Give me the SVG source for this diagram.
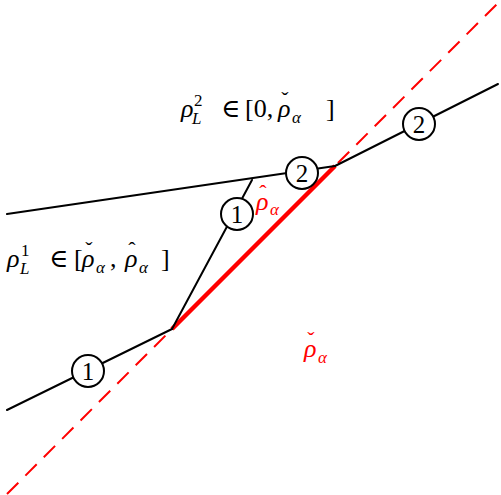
<svg xmlns="http://www.w3.org/2000/svg" width="501" height="495" viewBox="0 0 501 495">
<style>
.ln{stroke:#000;stroke-width:2;fill:none;stroke-linecap:round}
.nd circle{fill:#fff;stroke:#000;stroke-width:2}
.nd text{font-family:"Liberation Serif","DejaVu Serif",serif;font-size:25px;text-anchor:middle}
.t{font-family:"Liberation Serif","DejaVu Serif",serif;font-size:26px}
.i{font-style:italic}
.s{font-size:17px}
.a{text-anchor:middle;font-size:22px}
.red{fill:#f00}
</style>
<rect width="501" height="495" fill="#fff"/>
<g id="connectors">
<line x1="7" y1="494" x2="497" y2="4" stroke="#f00" stroke-width="2" stroke-dasharray="16 10"/>
<line x1="172" y1="329" x2="335" y2="166" stroke="#f00" stroke-width="4.5"/>
<line class="ln" x1="7" y1="410" x2="172" y2="329"/>
<line class="ln" x1="172" y1="329" x2="252" y2="180"/>
<line class="ln" x1="7" y1="214" x2="335" y2="166"/>
<line class="ln" x1="335" y1="166" x2="498" y2="84"/>
</g>
<g id="n1a" class="nd"><circle cx="88" cy="371" r="16"/><text x="88" y="380">1</text></g>
<g id="n1b" class="nd"><circle cx="237" cy="214" r="16"/><text x="237" y="223">1</text></g>
<g id="n2a" class="nd"><circle cx="302" cy="173" r="16"/><text x="302" y="182">2</text></g>
<g id="n2b" class="nd"><circle cx="419" cy="124" r="16"/><text x="419" y="133">2</text></g>
<g id="label-top">
<text class="t i" x="181" y="117">ρ</text>
<text class="t s" x="194" y="106">2</text>
<text class="t s i" x="192" y="124">L</text>
<text class="t" x="221" y="117">∈</text>
<text class="t" x="245" y="117">[0,</text>
<text class="t i" x="278" y="117">ρ</text>
<text class="t a" x="285" y="107">ˇ</text>
<text class="t s i" x="292" y="123">α</text>
<text class="t" x="326" y="117">]</text>
</g>
<g id="label-left">
<text class="t i" x="7" y="267">ρ</text>
<text class="t s" x="21" y="256">1</text>
<text class="t s i" x="20" y="274">L</text>
<text class="t" x="49" y="267">∈</text>
<text class="t" x="74" y="267">[</text>
<text class="t i" x="82" y="267">ρ</text>
<text class="t a" x="89" y="257">ˇ</text>
<text class="t s i" x="96" y="273">α</text>
<text class="t" x="110" y="267">,</text>
<text class="t i" x="125" y="267">ρ</text>
<text class="t a" x="132" y="257">ˆ</text>
<text class="t s i" x="139" y="273">α</text>
<text class="t" x="161" y="267">]</text>
</g>
<g id="label-hat">
<text class="t i red" x="256" y="210">ρ</text>
<text class="t a red" x="263" y="200">ˆ</text>
<text class="t s i red" x="270" y="215">α</text>
</g>
<g id="label-check">
<text class="t i red" x="304" y="357">ρ</text>
<text class="t a red" x="311" y="347">ˇ</text>
<text class="t s i red" x="318" y="363">α</text>
</g>
</svg>
